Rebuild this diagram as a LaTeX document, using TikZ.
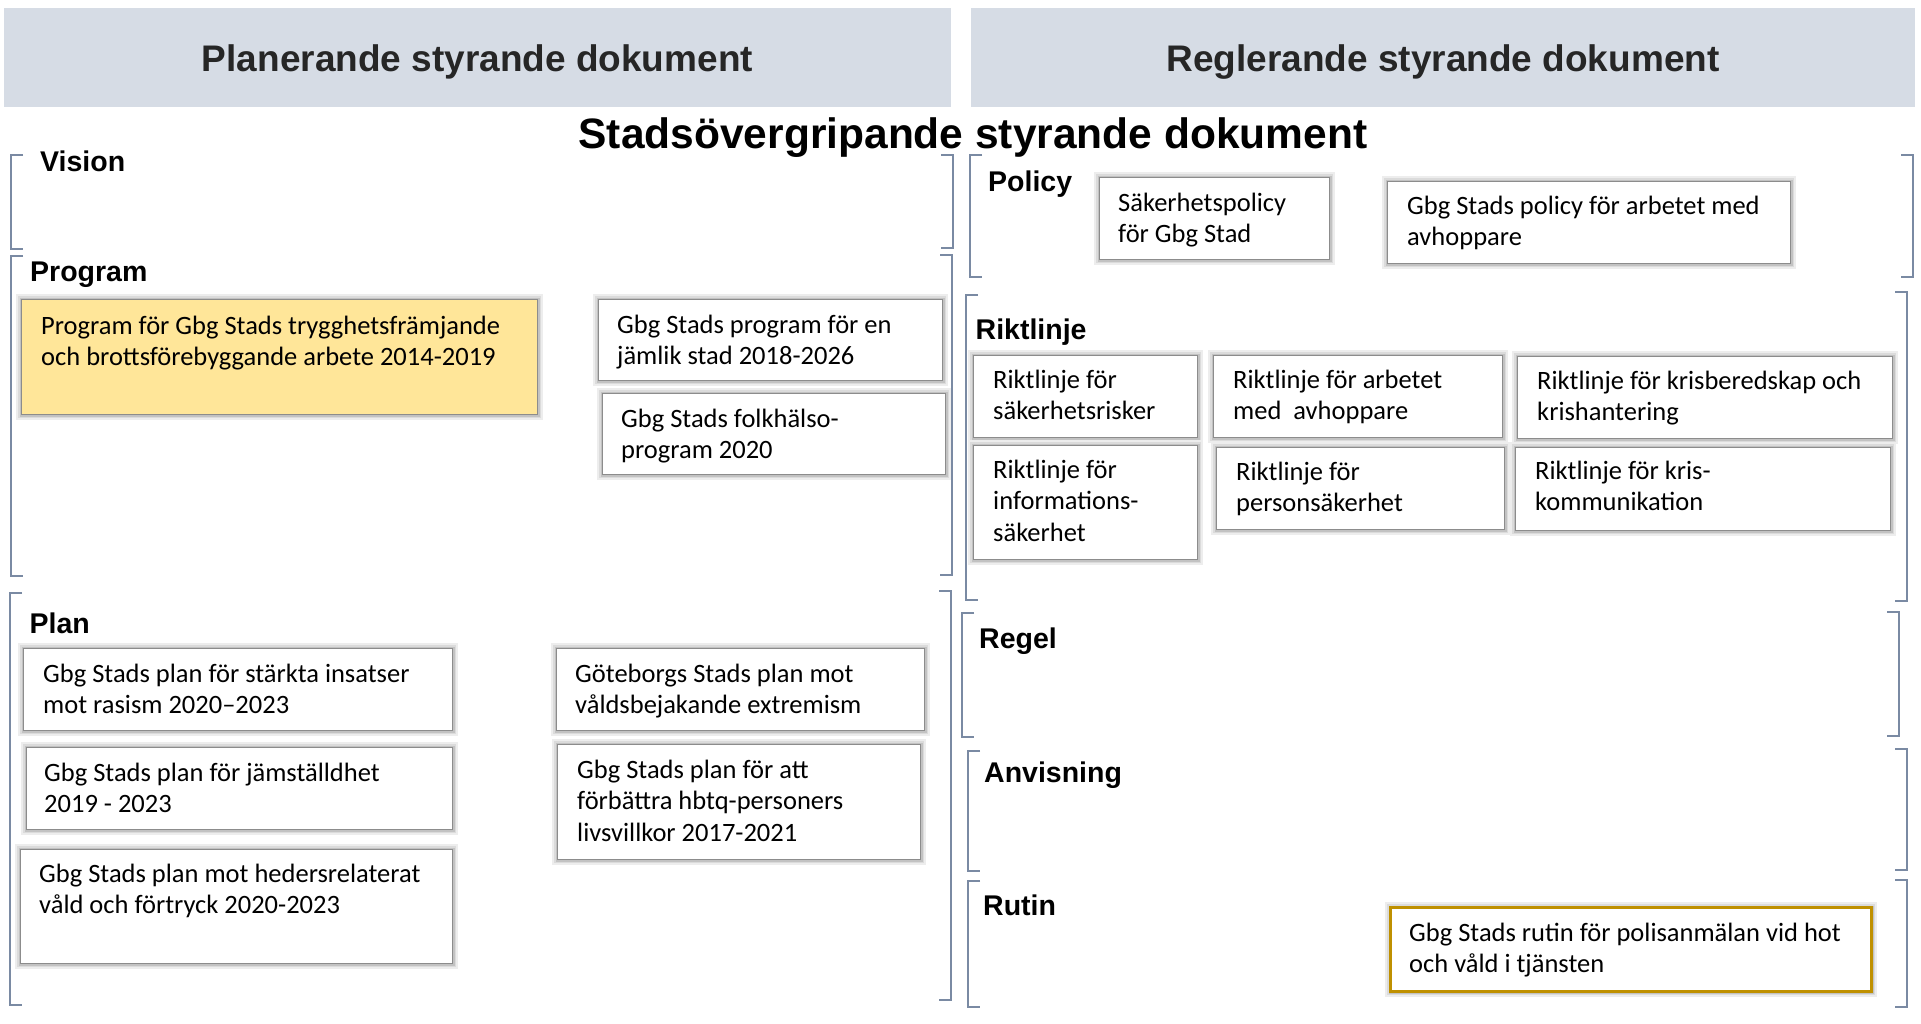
\documentclass[tikz,border=0pt]{standalone}
\usepackage{fontspec}
\setmainfont{Carlito}
\newfontfamily\hfont{Liberation Sans}
\definecolor{hdrfill}{HTML}{D6DCE5}
\definecolor{titlecol}{HTML}{262626}
\definecolor{brkcol}{HTML}{7A8AA3}
\definecolor{boxline}{HTML}{8C8C8C}
\definecolor{yelfill}{HTML}{FFE699}
\definecolor{goldline}{HTML}{BF9000}
\newcommand\fst{\rule{0pt}{24pt}}
\tikzset{
  hdr/.style={fill=hdrfill, draw=none},
  hdrtext/.style={font=\hfont\bfseries\fontsize{37}{44}\selectfont, text=titlecol, inner sep=0, anchor=base},
  subtext/.style={font=\hfont\bfseries\fontsize{42.5}{50}\selectfont, text=black, inner sep=0, anchor=base},
  lvl/.style={font=\hfont\bfseries\fontsize{28.5}{34}\selectfont, text=black, inner sep=0, anchor=base west},
  docbox/.style={draw=boxline, line width=1.2pt, fill=white, anchor=north west, inner sep=0,
    preaction={draw=black!7, line width=11pt},
    preaction={draw=black!14, line width=7pt},
    preaction={draw=black!24, line width=4pt}},
  doctext/.style={font=\fontsize{26.5}{31.5}\selectfont, text=black, align=left, inner sep=0, anchor=north west},
  brk/.style={draw=brkcol, line width=1.4pt},
}
\begin{document}
\begin{tikzpicture}[x=1pt,y=-1pt]
\useasboundingbox (0,0) rectangle (1921,1023);
\fill[white] (0,0) rectangle (1921,1023);

% headers
\path[hdr] (4,8) rectangle (951,107);
\path[hdr] (971,8) rectangle (1915,107);
\node[hdrtext] (hl) at (477.5,71.5) {Planerande styrande dokument};
\node[hdrtext] (hr) at (1443,71.5) {Reglerande styrande dokument};
\node[subtext] (sub) at (973,148) {Stadsövergripande styrande dokument};

% brackets left column
\draw[brk] (23,155) -- (11,155) -- (11,249) -- (23,249);
\draw[brk] (941,155) -- (953,155) -- (953,248) -- (941,248);
\draw[brk] (23,256) -- (11,256) -- (11,576) -- (23,576);
\draw[brk] (940,255) -- (952,255) -- (952,575) -- (940,575);
\draw[brk] (22,593) -- (10,593) -- (10,1005) -- (22,1005);
\draw[brk] (939,591) -- (951,591) -- (951,1000) -- (939,1000);
% brackets right column
\draw[brk] (982,155) -- (970,155) -- (970,277) -- (982,277);
\draw[brk] (1901,155) -- (1913,155) -- (1913,277) -- (1901,277);
\draw[brk] (978,295) -- (966,295) -- (966,600) -- (978,600);
\draw[brk] (1895,292) -- (1907,292) -- (1907,601) -- (1895,601);
\draw[brk] (974,613) -- (962,613) -- (962,737) -- (974,737);
\draw[brk] (1887,612) -- (1899,612) -- (1899,736) -- (1887,736);
\draw[brk] (980,751) -- (968,751) -- (968,871) -- (980,871);
\draw[brk] (1895,749) -- (1907,749) -- (1907,870) -- (1895,870);
\draw[brk] (980,881) -- (968,881) -- (968,1007) -- (980,1007);
\draw[brk] (1895,880) -- (1907,880) -- (1907,1007) -- (1895,1007);

% level labels
\node[lvl] (lvision) at (40,171.5) {Vision};
\node[lvl] (lprogram) at (30,281) {Program};
\node[lvl] (lplan) at (29.5,633) {Plan};
\node[lvl] (lpolicy) at (988,191.5) {Policy};
\node[lvl] (lrikt) at (975.5,339) {Riktlinje};
\node[lvl] (lregel) at (979,648) {Regel};
\node[lvl] (lanv) at (984,782.5) {Anvisning};
\node[lvl] (lrutin) at (983,915) {Rutin};

% Program boxes
\node[docbox, fill=yelfill, minimum width=516pt, minimum height=115pt] (b1) at (21,299) {};
\node[doctext] (b1t) at (41,310) {\fst Program för Gbg Stads trygghetsfrämjande\\och brottsförebyggande arbete 2014-2019};
\node[docbox, minimum width=344pt, minimum height=81pt] (b2) at (598,299) {};
\node[doctext] (b2t) at (617,309) {\fst Gbg Stads program för en\\jämlik stad 2018-2026};
\node[docbox, minimum width=343pt, minimum height=81pt] (b3) at (602,393) {};
\node[doctext] (b3t) at (621,403) {\fst Gbg Stads folkhälso-\\program 2020};

% Plan boxes
\node[docbox, minimum width=429pt, minimum height=82pt] (p1) at (23,648) {};
\node[doctext] (p1t) at (43,658) {\fst Gbg Stads plan för stärkta insatser\\mot rasism 2020–2023};
\node[docbox, minimum width=426pt, minimum height=82pt] (p2) at (26,747) {};
\node[doctext] (p2t) at (44,757) {\fst Gbg Stads plan för jämställdhet\\2019 - 2023};
\node[docbox, minimum width=432pt, minimum height=114pt] (p3) at (20,849) {};
\node[doctext] (p3t) at (39,858) {\fst Gbg Stads plan mot hedersrelaterat\\våld och förtryck 2020-2023};
\node[docbox, minimum width=368pt, minimum height=82pt] (p4) at (556,648) {};
\node[doctext] (p4t) at (575,658) {\fst Göteborgs Stads plan mot\\våldsbejakande extremism};
\node[docbox, minimum width=363pt, minimum height=115pt] (p5) at (557,744) {};
\node[doctext] (p5t) at (577,754) {\fst Gbg Stads plan för att\\förbättra hbtq-personers\\livsvillkor 2017-2021};

% Policy boxes
\node[docbox, minimum width=230pt, minimum height=82pt] (pol1) at (1099,177) {};
\node[doctext] (pol1t) at (1118,187) {\fst Säkerhetspolicy\\för Gbg Stad};
\node[docbox, minimum width=403pt, minimum height=82pt] (pol2) at (1387,181) {};
\node[doctext] (pol2t) at (1407,190) {\fst Gbg Stads policy för arbetet med\\avhoppare};

% Riktlinje boxes
\node[docbox, minimum width=224pt, minimum height=82pt] (r1) at (973,355) {};
\node[doctext] (r1t) at (993,364) {\fst Riktlinje för\\säkerhetsrisker};
\node[docbox, minimum width=289pt, minimum height=82pt] (r2) at (1213,355) {};
\node[doctext] (r2t) at (1233,364) {\fst Riktlinje för arbetet\\med\ \ avhoppare};
\node[docbox, minimum width=375pt, minimum height=82pt] (r3) at (1517,356) {};
\node[doctext] (r3t) at (1537,365) {\fst Riktlinje för krisberedskap och\\krishantering};
\node[docbox, minimum width=224pt, minimum height=114pt] (r4) at (973,445) {};
\node[doctext] (r4t) at (993,454) {\fst Riktlinje för\\informations-\\säkerhet};
\node[docbox, minimum width=288pt, minimum height=82pt] (r5) at (1216,447) {};
\node[doctext] (r5t) at (1236,456) {\fst Riktlinje för\\personsäkerhet};
\node[docbox, minimum width=375pt, minimum height=83pt] (r6) at (1515,447) {};
\node[doctext] (r6t) at (1535,455) {\fst Riktlinje för kris-\\kommunikation};

% Rutin box
\node[docbox, draw=goldline, line width=3pt, minimum width=481pt, minimum height=84pt] (ru) at (1389,906) {};
\node[doctext] (rut) at (1409,917) {\fst Gbg Stads rutin för polisanmälan vid hot\\och våld i tjänsten};
\end{tikzpicture}
\end{document}
